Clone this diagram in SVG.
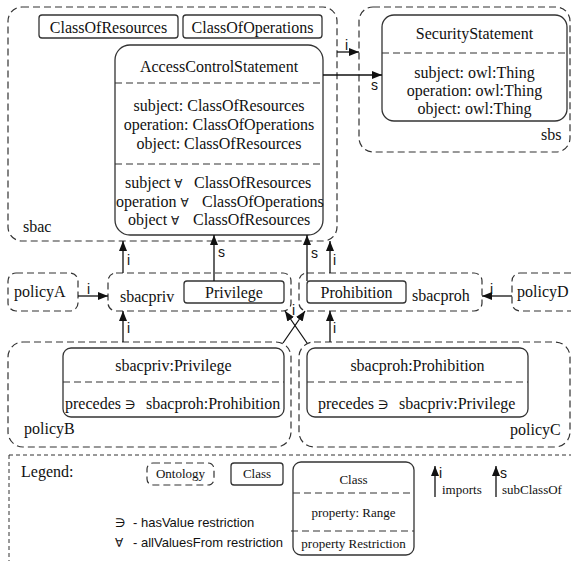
<svg xmlns="http://www.w3.org/2000/svg" width="571" height="561" viewBox="0 0 571 561">
<style>
.onto{fill:none;stroke:#333;stroke-width:1.2;stroke-dasharray:7,4}
.cls{fill:#fff;stroke:#333;stroke-width:1.3}
.sep{fill:none;stroke:#333;stroke-width:1.2;stroke-dasharray:7,4}
.t{font-family:"Liberation Serif","Times New Roman",serif;font-size:16px;fill:#111}
.tc{font-family:"Liberation Serif","Times New Roman",serif;font-size:16px;fill:#111;text-anchor:middle}
.lab{font-family:"Liberation Sans",Arial,sans-serif;font-size:14px;fill:#111}
.lg{font-family:"Liberation Serif","Times New Roman",serif;font-size:13px;fill:#111}
.lgc{font-family:"Liberation Serif","Times New Roman",serif;font-size:13px;fill:#111;text-anchor:middle}
.ls{font-family:"Liberation Sans",Arial,sans-serif;font-size:13px;fill:#111}
.sym{font-family:"DejaVu Sans","Liberation Serif",serif;font-size:12px;fill:#111}
.con{fill:none;stroke:#111;stroke-width:1.3;marker-end:url(#ah)}
</style>
<defs>
<marker id="ah" markerUnits="userSpaceOnUse" markerWidth="10" markerHeight="8" refX="10" refY="4" orient="auto">
<path d="M0,0 L10,4 L0,8 z" fill="#111"/>
</marker>
</defs>
<rect width="571" height="561" fill="#fff"/>

<g id="sbac">
<rect class="onto" x="8" y="7" width="329" height="234" rx="14"/>
<text class="t" x="23" y="232">sbac</text>
</g>
<g id="ClassOfResources">
<rect class="cls" x="39" y="15" width="139" height="23" rx="3"/>
<text class="tc" x="108.5" y="33">ClassOfResources</text>
</g>
<g id="ClassOfOperations">
<rect class="cls" x="183" y="15" width="139" height="23" rx="3"/>
<text class="tc" x="252.5" y="33">ClassOfOperations</text>
</g>
<g id="AccessControlStatement">
<rect class="cls" x="115" y="45" width="208" height="190" rx="15"/>
<line class="sep" x1="115" y1="83" x2="323" y2="83"/>
<line class="sep" x1="115" y1="164" x2="323" y2="164"/>
<text class="tc" x="219" y="72">AccessControlStatement</text>
<text class="tc" x="219" y="111">subject: ClassOfResources</text>
<text class="tc" x="219" y="130">operation: ClassOfOperations</text>
<text class="tc" x="219" y="149">object: ClassOfResources</text>
<text class="t" x="125" y="188">subject <tspan class="sym">∀</tspan></text>
<text class="t" x="194" y="188">ClassOfResources</text>
<text class="t" x="116" y="207">operation <tspan class="sym">∀</tspan></text>
<text class="t" x="202" y="207">ClassOfOperations</text>
<text class="t" x="128" y="225">object <tspan class="sym">∀</tspan></text>
<text class="t" x="193" y="225">ClassOfResources</text>
</g>

<g id="sbs">
<rect class="onto" x="359" y="7" width="211" height="145" rx="14"/>
<text class="t" x="541" y="140">sbs</text>
</g>
<g id="SecurityStatement">
<rect class="cls" x="382" y="15" width="185" height="106" rx="12"/>
<line class="sep" x1="382" y1="53" x2="567" y2="53"/>
<text class="tc" x="474.5" y="39">SecurityStatement</text>
<text class="tc" x="474.5" y="78">subject: owl:Thing</text>
<text class="tc" x="474.5" y="96">operation: owl:Thing</text>
<text class="tc" x="474.5" y="114">object: owl:Thing</text>
</g>

<g id="policyA">
<rect class="onto" x="8" y="273" width="70" height="38" rx="8"/>
<text class="t" x="14" y="297">policyA</text>
</g>
<g id="sbacpriv">
<rect class="onto" x="108" y="273" width="183" height="38" rx="8"/>
<text class="t" x="120" y="302">sbacpriv</text>
</g>
<g id="Privilege">
<rect class="cls" x="184" y="281" width="100" height="22" rx="3"/>
<text class="tc" x="234" y="298">Privilege</text>
</g>
<g id="sbacproh">
<rect class="onto" x="299" y="273" width="183" height="38" rx="8"/>
<text class="t" x="412" y="301">sbacproh</text>
</g>
<g id="Prohibition">
<rect class="cls" x="307" y="281" width="99" height="22" rx="3"/>
<text class="tc" x="356.5" y="298">Prohibition</text>
</g>
<g id="policyD">
<rect class="onto" x="512" y="273" width="80" height="38" rx="8"/>
<text class="t" x="517" y="297">policyD</text>
</g>

<g id="policyB">
<rect class="onto" x="8" y="342" width="283" height="105" rx="15"/>
<text class="t" x="24" y="434">policyB</text>
</g>
<g id="sbacpriv_Privilege">
<rect class="cls" x="63" y="348" width="221" height="69" rx="8"/>
<line class="sep" x1="63" y1="382" x2="284" y2="382"/>
<text class="tc" x="173.5" y="371">sbacpriv:Privilege</text>
<text class="t" x="65" y="409">precedes <tspan class="sym">∋</tspan></text>
<text class="t" x="146" y="409">sbacproh:Prohibition</text>
</g>
<g id="policyC">
<rect class="onto" x="299" y="342" width="271" height="105" rx="15"/>
<text class="t" x="510" y="435">policyC</text>
</g>
<g id="sbacproh_Prohibition">
<rect class="cls" x="307" y="348" width="221" height="69" rx="8"/>
<line class="sep" x1="307" y1="382" x2="528" y2="382"/>
<text class="tc" x="417.5" y="371">sbacproh:Prohibition</text>
<text class="t" x="318" y="409">precedes <tspan class="sym">∋</tspan></text>
<text class="t" x="399" y="409">sbacpriv:Privilege</text>
</g>

<g id="connectors">
<path class="con" d="M337,52 L359,52"/>
<text class="lab" x="345" y="50">i</text>
<path class="con" d="M323,75 L382,75"/>
<text class="lab" x="371" y="90">s</text>
<path class="con" d="M123,273 L123,241"/>
<text class="lab" x="127" y="265">i</text>
<path class="con" d="M214,281 L214,235"/>
<text class="lab" x="218" y="257">s</text>
<path class="con" d="M307,281 L307,235"/>
<text class="lab" x="311" y="258">s</text>
<path class="con" d="M330,273 L330,241"/>
<text class="lab" x="333" y="265">i</text>
<path class="con" d="M78,296 L108,296"/>
<text class="lab" x="87" y="294">i</text>
<path class="con" d="M512,296 L482,296"/>
<text class="lab" x="490" y="294">i</text>
<path class="con" d="M123,342 L123,311"/>
<text class="lab" x="127" y="333">i</text>
<path class="con" d="M330,342 L330,311"/>
<text class="lab" x="333" y="333">i</text>
<path class="con" d="M283,343 L305,311"/>
<path class="con" d="M307,343 L285,311"/>
<text class="lab" x="292" y="315">i</text>
</g>

<g id="legend">
<rect x="9" y="455" width="600" height="200" fill="none" stroke="#333" stroke-width="1" stroke-dasharray="4,3"/>
<text class="t" x="21" y="477">Legend:</text>
<rect class="onto" x="147" y="463" width="67" height="22" rx="6"/>
<text class="lgc" x="180.5" y="478">Ontology</text>
<rect class="cls" x="231" y="463" width="52" height="22" rx="3"/>
<text class="lgc" x="257" y="478">Class</text>
<rect class="cls" x="293" y="462" width="121" height="93" rx="8"/>
<line class="sep" x1="293" y1="493" x2="414" y2="493"/>
<line class="sep" x1="291" y1="531" x2="414" y2="531"/>
<text class="lgc" x="353.5" y="484">Class</text>
<text class="lgc" x="353.5" y="517">property: Range</text>
<text class="lgc" x="353.5" y="548">property Restriction</text>
<text class="sym" x="115" y="527">∋</text>
<text class="ls" x="133" y="527">- hasValue restriction</text>
<text class="sym" x="115" y="547">∀</text>
<text class="ls" x="133" y="547">- allValuesFrom restriction</text>
<path class="con" d="M435,497 L435,466"/>
<text class="lab" x="439" y="478">i</text>
<text class="lg" x="442" y="494">imports</text>
<path class="con" d="M496,497 L496,466"/>
<text class="lab" x="500" y="478">s</text>
<text class="lg" x="502" y="494">subClassOf</text>
</g>
</svg>
